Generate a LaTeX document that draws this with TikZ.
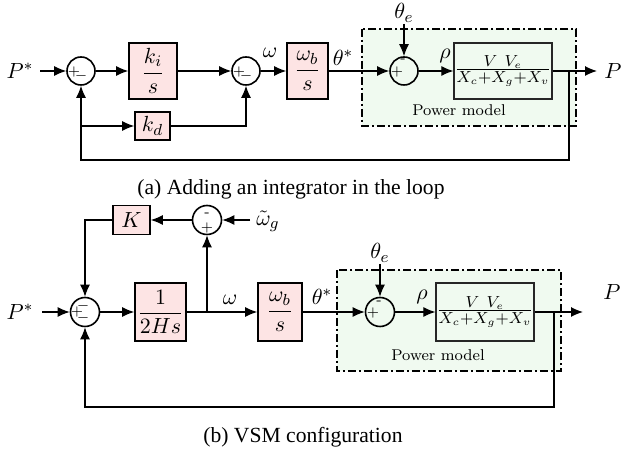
\documentclass[tikz,border=0pt]{standalone}
\usepackage{fontspec}
\usepackage{amsmath}
\newfontfamily\capfont{Liberation Serif}
\usetikzlibrary{arrows.meta}
\definecolor{blockpink}{RGB}{253,228,228}
\definecolor{pmgreen}{RGB}{240,250,240}
\begin{document}
\begin{tikzpicture}[x=0.5pt,y=-0.5pt,
  font=\fontsize{11}{13}\selectfont,
  sig/.style={line width=0.6pt,-{Latex[length=6pt,width=5pt]}},
  wire/.style={line width=0.6pt},
  blk/.style={draw,line width=0.8pt,fill=blockpink,inner sep=0pt},
  sumc/.style={draw,circle,line width=0.8pt,minimum size=14pt,inner sep=0pt},
  pmbox/.style={draw,dash pattern=on 4pt off 1.5pt on 1pt off 1.5pt,line width=0.7pt,fill=pmgreen},
  pwblk/.style={draw=black!85,line width=0.8pt,fill=pmgreen,inner sep=0pt},
  sgn/.style={font=\fontsize{7}{8}\selectfont,inner sep=0pt},
  lbl/.style={inner sep=0pt},
  pmtext/.style={inner sep=0pt,font=\fontsize{7.8}{9}\selectfont},
  captext/.style={inner sep=0pt,anchor=west,font=\capfont\fontsize{10.8}{13}\selectfont}
]
\useasboundingbox (0,0) rectangle (621,453);

% ================= (a) =================
\draw[pmbox] (362,29) rectangle (576,126);
\node[pmtext] (pma) at (459,110) {Power model};

\node[lbl] (pstara) at (20,71) {$P^*$};
\coordinate (pina) at (40,71);
\node[sumc] (s1) at (81,71) {};
\node[sgn] (s1p) at (74,72) {$+$};
\node[sgn] (s1m) at (81,76) {$-$};
\node[blk,minimum width=24pt,minimum height=28pt] (ki) at (153,71) {$\dfrac{k_i}{s}$};
\node[sumc] (s2) at (246,71) {};
\node[sgn] (s2p) at (239,72) {$+$};
\node[sgn] (s2m) at (246,76) {$-$};
\node[lbl] (wa) at (270,53) {$\omega$};
\node[blk,minimum width=20.5pt,minimum height=28pt] (wb) at (307.5,71) {$\dfrac{\omega_b}{s}$};
\node[lbl] (tsa) at (343,58) {$\theta^*$};
\node[sumc] (s3) at (404,71) {};
\node[sgn] (s3p) at (397,72) {$+$};
\node[sgn] (s3m) at (403,61) {-};
\node[lbl] (tea) at (404,13) {$\theta_e$};
\coordinate (tepa) at (404,24);
\node[lbl] (rhoa) at (445,56) {$\rho$};
\node[pwblk,minimum width=45pt,minimum height=28pt] (pw) at (503,71) {$\frac{V\ V_e}{X_c+X_g+X_v}$};
\coordinate (bra) at (569,71);
\coordinate (pouta) at (597,71);
\node[lbl] (pa) at (613,71) {$P$};
\coordinate (fba) at (569,160);
\node[blk,minimum width=17.5pt,minimum height=14pt] (kd) at (152.5,126) {$k_d$};
\coordinate (kdb) at (81,126);

\draw[sig] (pina) -- (s1.west);
\draw[sig] (s1.east) -- (ki.west);
\draw[sig] (ki.east) -- (s2.west);
\draw[sig] (s2.east) -- (wb.west);
\draw[sig] (wb.east) -- (s3.west);
\draw[sig] (tepa) -- (s3.north);
\draw[sig] (s3.east) -- (pw.west);
\draw[wire] (pw.east) -- (bra);
\draw[sig] (bra) -- (pouta);
\draw[sig] (bra) -- (fba) -| (s1.south);
\draw[sig] (kdb) -- (kd.west);
\draw[sig] (kd.east) -| (s2.south);

\node[captext] (capa) at (137,189) {(a) Adding an integrator in the loop};

% ================= (b) =================
\draw[pmbox] (337,270) rectangle (561,371);
\node[pmtext] (pmb) at (438,355) {Power model};

\node[lbl] (pstarb) at (20,312) {$P^*$};
\coordinate (pinb) at (42,312);
\node[sumc,minimum size=14.5pt] (m) at (85,312) {};
\node[sgn] (mp) at (77,312) {$+$};
\node[sgn] (mm1) at (83,306) {$-$};
\node[sgn] (mm2) at (83,318) {$-$};
\node[blk,minimum width=25.5pt,minimum height=29pt] (h) at (160.5,312) {$\dfrac{1}{2Hs}$};
\coordinate (brw) at (207,312);
\node[sumc,minimum size=14.5pt] (t) at (207,220) {};
\node[sgn] (tm) at (207,215) {-};
\node[sgn] (tp) at (207,228) {$+$};
\node[blk,minimum width=18.5pt,minimum height=14.5pt] (K) at (131.5,220) {$K$};
\coordinate (wgin) at (250,220);
\node[lbl] (wg) at (268,221) {$\tilde{\omega}_g$};
\node[lbl] (wlb) at (230,300) {$\omega$};
\node[blk,minimum width=22pt,minimum height=29pt] (wb2) at (280,312) {$\dfrac{\omega_b}{s}$};
\node[lbl] (tsb) at (322,297) {$\theta^*$};
\node[sumc,minimum size=14.5pt] (s3b) at (380,312) {};
\node[sgn] (s3bp) at (373,313) {$+$};
\node[sgn] (s3bm) at (379,303) {-};
\node[lbl] (teb) at (380,253) {$\theta_e$};
\coordinate (tepb) at (380,264);
\node[lbl] (rhob) at (422,297) {$\rho$};
\node[pwblk,minimum width=47pt,minimum height=29pt] (pw2) at (485,312) {$\frac{V\ V_e}{X_c+X_g+X_v}$};
\coordinate (brb) at (554,312);
\coordinate (poutb) at (583,312);
\node[lbl] (pb) at (612,292) {$P$};
\coordinate (fbb) at (554,407);

\draw[sig] (pinb) -- (m.west);
\draw[sig] (m.east) -- (h.west);
\draw[sig] (h.east) -- (wb2.west);
\draw[sig] (brw) -- (t.south);
\draw[sig] (wgin) -- (t.east);
\draw[sig] (t.west) -- (K.east);
\draw[sig] (K.west) -| (m.north);
\draw[sig] (wb2.east) -- (s3b.west);
\draw[sig] (tepb) -- (s3b.north);
\draw[sig] (s3b.east) -- (pw2.west);
\draw[wire] (pw2.east) -- (brb);
\draw[sig] (brb) -- (poutb);
\draw[sig] (brb) -- (fbb) -| (m.south);

\node[captext] (capb) at (203,437) {(b) VSM configuration};
\end{tikzpicture}
\end{document}
